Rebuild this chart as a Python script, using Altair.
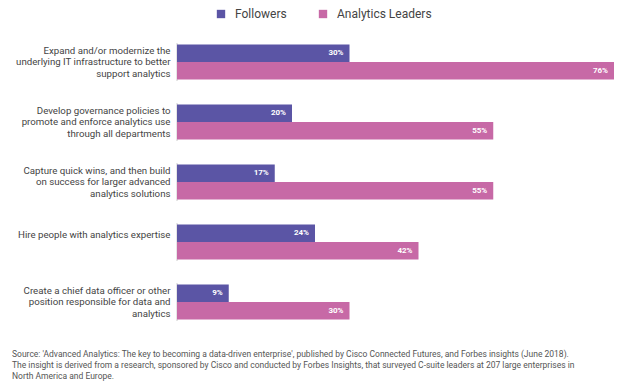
import altair as alt
import pandas as pd

categories = [
    "Expand and/or modernize the|underlying IT infrastructure to better|support analytics",
    "Develop governance policies to|promote and enforce analytics use|through all departments",
    "Capture quick wins, and then build|on success for larger advanced|analytics solutions",
    "Hire people with analytics expertise",
    "Create a chief data officer or other|position responsible for data and|analytics",
]
series = ["Followers", "Analytics Leaders"]
followers = [30, 20, 17, 24, 9]
leaders = [76, 55, 55, 42, 30]
colors = ["#5b55a5", "#c769a6"]
footnote = [
    "Source: 'Advanced Analytics: The key to becoming a data-driven enterprise', published by Cisco Connected Futures, and Forbes insights (June 2018).",
    "The insight is derived from a research, sponsored by Cisco and conducted by Forbes Insights, that surveyed C-suite leaders at 207 large enterprises in",
    "North America and Europe.",
]

rows = []
for c, f, l in zip(categories, followers, leaders):
    rows.append({"cat": c, "series": series[0], "value": f, "label": f"{f}%"})
    rows.append({"cat": c, "series": series[1], "value": l, "label": f"{l}%"})
df = pd.DataFrame(rows)

FONT = "Roboto"

y_enc = alt.Y(
    "cat:N",
    sort=categories,
    title=None,
    scale=alt.Scale(paddingInner=0.42, paddingOuter=0.21),
    axis=alt.Axis(
        labelExpr="split(datum.label, '|')",
        labelFontSize=9.7,
        labelLineHeight=11.5,
        labelColor="#444444",
        labelFont=FONT,
        labelPadding=7,
        labelLimit=200,
        labelOffset={"condition": {"test": "indexof(datum.value, '|') < 0", "value": -7}, "value": -11.5},
        ticks=False,
        domain=False,
    ),
)
x_scale = alt.Scale(domain=[0, 76], nice=False)
x_enc = alt.X("value:Q", scale=x_scale, axis=None)
yoff = alt.YOffset("series:N", sort=series, scale=alt.Scale(paddingInner=0, paddingOuter=0))

base = alt.Chart(df)

axis_lines = base.transform_calculate(zero="0").mark_tick(
    orient="vertical", color="#d6d6d6", thickness=1, size=38
).encode(y=y_enc, x=alt.X("zero:Q", scale=x_scale, axis=None))

bars = base.mark_bar().encode(
    y=y_enc,
    x=x_enc,
    yOffset=yoff,
    color=alt.Color(
        "series:N",
        sort=series,
        scale=alt.Scale(domain=series, range=colors),
        legend=alt.Legend(
            title=None,
            orient="none",
            direction="horizontal",
            legendX=38,
            legendY=-24,
            symbolType="square",
            symbolSize=70,
            symbolStrokeWidth=0,
            labelFontSize=12,
            labelFont=FONT,
            labelColor="#444444",
            labelOffset=8,
            columnPadding=30,
        ),
    ),
)

labels = base.mark_text(
    align="right", baseline="middle", dx=-6, color="white",
    fontSize=8, fontWeight="bold", font=FONT,
).encode(y=y_enc, x=x_enc, yOffset=yoff, text="label:N")

chart = alt.layer(axis_lines, bars, labels).properties(
    width=437,
    height=300,
    autosize=alt.AutoSizeParams(type="none"),
    padding={"left": 169, "top": 24, "right": 3, "bottom": 50},
    title=alt.TitleParams(
        text=footnote,
        orient="bottom",
        anchor="start",
        frame="group",
        dx=-165,
        offset=18,
        fontSize=8.5,
        lineHeight=11,
        font=FONT,
        fontWeight="normal",
        color="#555555",
    ),
).configure_view(stroke=None)

chart.save("out.html", embed_options={"renderer": "svg", "actions": False})
